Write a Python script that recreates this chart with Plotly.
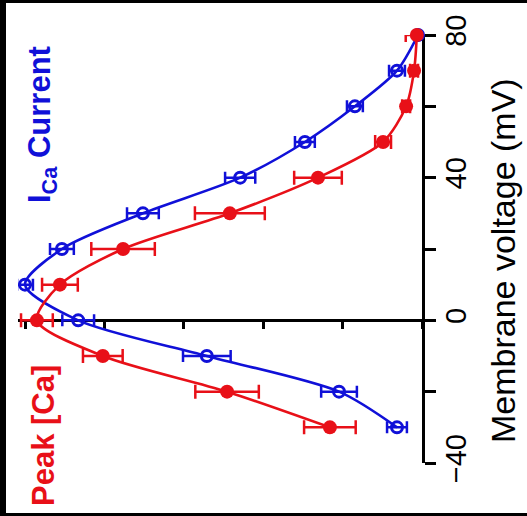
import plotly.graph_objects as go

# ---- data (voltage in mV, normalized amplitudes) ----
voltage = [-30, -20, -10, 0, 10, 20, 30, 40, 50, 60, 70, 80]
ica_current = [0.063, 0.209, 0.542, 0.866, 1.0, 0.907, 0.703, 0.458, 0.295, 0.169, 0.063, 0.01]
ica_err = [0.025, 0.045, 0.06, 0.04, 0.02, 0.03, 0.04, 0.038, 0.025, 0.02, 0.02, 0.01]
peak_ca = [0.232, 0.491, 0.804, 0.970, 0.912, 0.753, 0.484, 0.262, 0.098, 0.040, 0.020, 0.013]
peak_err = [0.065, 0.08, 0.05, 0.04, 0.045, 0.08, 0.088, 0.06, 0.02, 0.01, 0.01, 0.028]
v_tickvals = [-40, 0, 40, 80]
v_ticktext = ["\u221240", "0", "40", "80"]
v_minor_tickvals = [-20, 20, 60]
amp_tickvals = [0, 0.2, 0.4, 0.6, 0.8, 1.0]

BLUE = "#1010d8"
RED = "#e81018"
FONT = "Liberation Sans, Arial, sans-serif"

W, H = 527, 516
L, R, T, B = 18, 105, 35, 53


def px(xp, yp):
    return (xp - L) / (W - L - R), (H - B - yp) / (H - T - B)


fig = go.Figure()

fig.add_trace(go.Scatter(
    x=ica_current, y=voltage, mode="lines+markers",
    line=dict(color=BLUE, width=2.6, shape="spline", smoothing=0.8),
    marker=dict(symbol="circle-open", size=11, color=BLUE, line=dict(width=3, color=BLUE)),
    error_x=dict(type="data", array=ica_err, color=BLUE, thickness=2.5, width=6),
    cliponaxis=False, showlegend=False,
))
fig.add_trace(go.Scatter(
    x=peak_ca, y=voltage, mode="lines+markers",
    line=dict(color=RED, width=2.6, shape="spline", smoothing=0.8),
    marker=dict(symbol="circle", size=14, color=RED),
    error_x=dict(type="data", array=peak_err, color=RED, thickness=2.5, width=7),
    cliponaxis=False, showlegend=False,
))

shapes = []
for (x0, y0, x1, y1) in [(0, 0, 6, H), (0, 0, W, 3), (0, 513, W, H)]:
    a0, b0 = px(x0, y0)
    a1, b1 = px(x1, y1)
    shapes.append(dict(type="rect", xref="paper", yref="paper", x0=a0, x1=a1, y0=b0, y1=b1,
                       fillcolor="black", line=dict(width=0), layer="above"))

annotations = []
ax, ay = px(503, 261)
annotations.append(dict(x=ax, y=ay, xref="paper", yref="paper", text="Membrane voltage (mV)",
                        textangle=-90, showarrow=False, xanchor="center", yanchor="middle",
                        font=dict(family=FONT, size=34, color="black")))
ax, ay = px(42, 125)
annotations.append(dict(x=ax, y=ay, xref="paper", yref="paper", text="<b>I<sub>Ca</sub> Current</b>",
                        textangle=-90, showarrow=False, xanchor="center", yanchor="middle",
                        font=dict(family=FONT, size=31, color=BLUE)))
ax, ay = px(43, 436)
annotations.append(dict(x=ax, y=ay, xref="paper", yref="paper", text="<b>Peak [Ca]</b>",
                        textangle=-90, showarrow=False, xanchor="center", yanchor="middle",
                        font=dict(family=FONT, size=31, color=RED)))

fig.update_layout(
    width=W, height=H,
    margin=dict(l=L, r=R, t=T, b=B, pad=0),
    paper_bgcolor="white", plot_bgcolor="white",
    shapes=shapes, annotations=annotations,
    xaxis=dict(range=[(422 - L) / 397, 0], anchor="free", position=1 / 3,
               showline=True, linecolor="black", linewidth=2.5,
               ticks="outside", ticklen=7, tickwidth=2.5, tickcolor="black",
               tickvals=amp_tickvals, showticklabels=False,
               showgrid=False, zeroline=False, layer="below traces"),
    yaxis=dict(range=[-40, 80], side="right", anchor="x",
               showline=True, linecolor="black", linewidth=2.5,
               ticks="outside", ticklen=11, tickwidth=2.5, tickcolor="black",
               tickvals=v_tickvals, ticktext=v_ticktext, tickangle=-90,
               ticklabelstandoff=-5,
               minor=dict(tickvals=v_minor_tickvals, ticks="outside", ticklen=11,
                          tickwidth=2.5, tickcolor="black", showgrid=False),
               tickfont=dict(family=FONT, size=29, color="black"),
               showgrid=False, zeroline=False, layer="below traces"),
)

fig.write_html("out.html")
